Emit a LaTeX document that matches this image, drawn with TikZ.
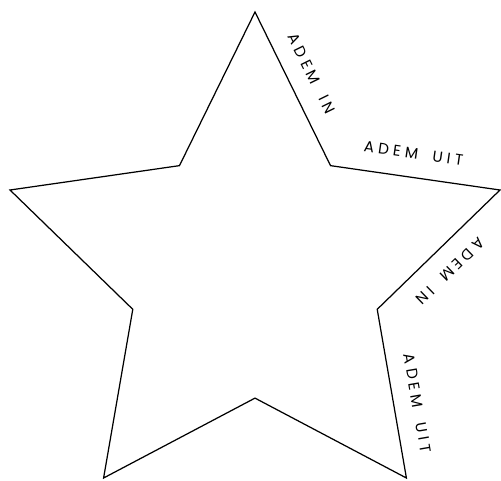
\documentclass[tikz,border=0pt]{standalone}
\usepackage{fontspec}
\newfontfamily\ademfont[LetterSpace=27, WordSpace=1.8]{Poppins}
\usepackage{tikz}
\usetikzlibrary{calc}

\begin{document}
\begin{tikzpicture}[
    starline/.style={line width=0.7pt, line join=miter},
    breath/.style={font=\ademfont\fontsize{8.7}{10}\selectfont, inner sep=0pt,
      sloped, allow upside down, above=0.36cm}
  ]
  \useasboundingbox (0,0) rectangle (10.02,9.6);
  \coordinate (c) at (5.1,4.208);

  % points of the star: outer o1..o5, inner i1..i5
  \foreach \k in {1,...,5}{
    \coordinate (o\k) at ($(c)+({90-72*(\k-1)}:5.152)$);
    \coordinate (i\k) at ($(c)+({54-72*(\k-1)}:2.57)$);
  }

  \draw[starline] (o1) -- (i1) -- (o2) -- (i2) -- (o3) -- (i3)
    -- (o4) -- (i4) -- (o5) -- (i5) -- cycle;

  \path (o1) -- (i1) node[breath, pos=0.47] {ADEM IN};
  \path (i1) -- (o2) node[breath, pos=0.47] {ADEM UIT};
  \path (o2) -- (i2) node[breath, pos=0.54] {ADEM IN};
  \path (i2) -- (o3) node[breath, pos=0.58] {ADEM UIT};
\end{tikzpicture}
\end{document}
